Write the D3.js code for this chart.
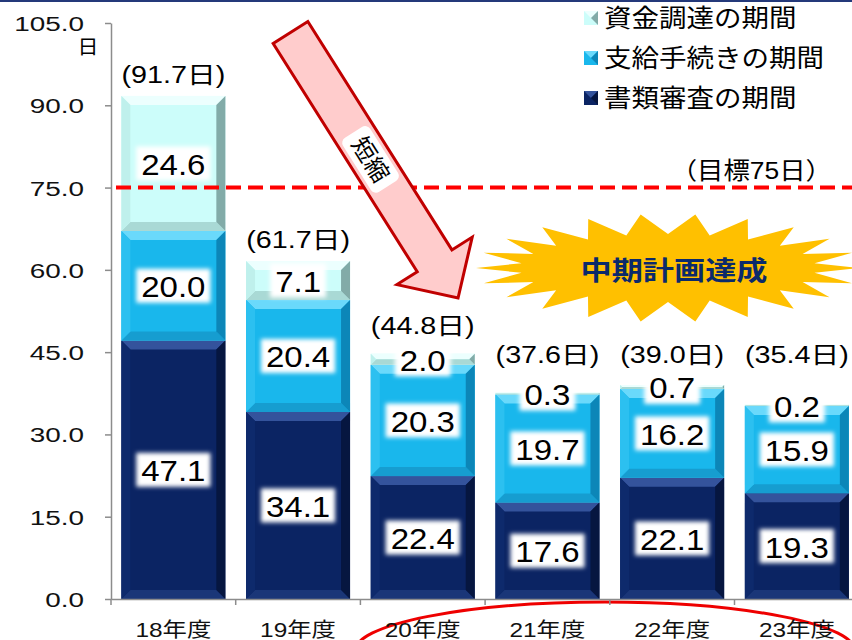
<!DOCTYPE html>
<html>
<head>
<meta charset="utf-8">
<script src="https://cdn.jsdelivr.net/npm/d3@7"></script>
<style>
  body { margin: 0; background: #fff; }
  svg { display: block; font-family: "Liberation Sans", "Noto Sans CJK JP", sans-serif; }
</style>
</head>
<body>
<script>
// data
const years = ["18年度", "19年度", "20年度", "21年度", "22年度", "23年度"];
const shinsa = [47.1, 34.1, 22.4, 17.6, 22.1, 19.3];   // 書類審査の期間
const shikyu = [20.0, 20.4, 20.3, 19.7, 16.2, 15.9];   // 支給手続きの期間
const shikin = [24.6, 7.1, 2.0, 0.3, 0.7, 0.2];        // 資金調達の期間
const totals = [91.7, 61.7, 44.8, 37.6, 39.0, 35.4];
const seriesKeys = ["shinsa", "shikyu", "shikin"];
const seriesNames = ["書類審査の期間", "支給手続きの期間", "資金調達の期間"];
const yTicks = [0, 15, 30, 45, 60, 75, 90, 105];
const target = 75;

const width = 852, height = 640;
const margin = { top: 23, left: 111, bottom: 41 };

// colours per series: face, top bevel, bottom bevel, left, right
const palette = {
    shinsa: { face: "#0b2463", top: "#34539c", bottom: "#1a3678", left: "#0e2a6c", right: "#061640" },
    shikyu: { face: "#19b7ec", top: "#6ad9fb", bottom: "#169dd0", left: "#2cc0f0", right: "#0c86b8" },
    shikin: { face: "#ccfdfa", top: "#ecfffe", bottom: "#a9d9d5", left: "#bff0ec", right: "#82aba8" }
};

const table = years.map((y, i) => ({ year: y, shinsa: shinsa[i], shikyu: shikyu[i], shikin: shikin[i], total: totals[i] }));
const stacked = d3.stack().keys(seriesKeys)(table);

const svg = d3.select("body").append("svg")
    .attr("width", width)
    .attr("height", height);

svg.append("rect").attr("width", width).attr("height", height).attr("fill", "#fff");

const defs = svg.append("defs");
defs.append("filter").attr("id", "soft")
    .attr("x", "-30%").attr("y", "-30%").attr("width", "160%").attr("height", "160%")
    .append("feGaussianBlur").attr("stdDeviation", 2.2);

// top border line
svg.append("rect").attr("x", 0).attr("y", 0).attr("width", width).attr("height", 2).attr("fill", "#24397a");

const x = d3.scaleBand()
    .domain(years)
    .range([margin.left, margin.left + 6 * 124.7])
    .paddingInner(0.166)
    .paddingOuter(0.083);

const y = d3.scaleLinear()
    .domain([0, 105])
    .range([height - margin.bottom, margin.top]);

// helper: text stretched horizontally like the original
function stretchedText(g, tx, ty, str, size, sx, anchor) {
    return g.append("text")
        .attr("transform", `translate(${tx},${ty}) scale(${sx},1)`)
        .attr("text-anchor", anchor || "middle")
        .attr("dy", "0.35em")
        .attr("font-size", size)
        .attr("fill", "#000")
        .text(str);
}

// red ellipse behind the axis labels of 20-23
svg.append("ellipse")
    .attr("cx", 605).attr("cy", 651)
    .attr("rx", 250).attr("ry", 49)
    .attr("fill", "none")
    .attr("stroke", "#ee0000")
    .attr("stroke-width", 3);

// bars with a bevel look
const barLayer = svg.append("g");
stacked.forEach(layer => {
    const c = palette[layer.key];
    layer.forEach((d, i) => {
        const x0 = x(years[i]);
        const w = x.bandwidth();
        const y0 = y(d[1]);
        const h = y(d[0]) - y(d[1]);
        const b = Math.min(9, h / 2, w / 2);
        const g = barLayer.append("g");
        g.append("rect").attr("x", x0).attr("y", y0).attr("width", w).attr("height", h).attr("fill", c.face);
        const poly = pts => pts.map(p => p.join(",")).join(" ");
        g.append("polygon").attr("fill", c.top)
            .attr("points", poly([[x0, y0], [x0 + w, y0], [x0 + w - b, y0 + b], [x0 + b, y0 + b]]));
        g.append("polygon").attr("fill", c.bottom)
            .attr("points", poly([[x0, y0 + h], [x0 + w, y0 + h], [x0 + w - b, y0 + h - b], [x0 + b, y0 + h - b]]));
        g.append("polygon").attr("fill", c.left)
            .attr("points", poly([[x0, y0], [x0 + b, y0 + b], [x0 + b, y0 + h - b], [x0, y0 + h]]));
        g.append("polygon").attr("fill", c.right)
            .attr("points", poly([[x0 + w, y0], [x0 + w - b, y0 + b], [x0 + w - b, y0 + h - b], [x0 + w, y0 + h]]));
    });
});

// axes
const yAxis = svg.append("g")
    .attr("transform", `translate(${margin.left},0)`)
    .call(d3.axisLeft(y).tickValues(yTicks).tickFormat(d3.format(".1f")).tickSize(6).tickSizeOuter(0));
yAxis.select(".domain").attr("stroke", "#8c8c8c").attr("stroke-width", 1.5);
yAxis.selectAll(".tick line").attr("stroke", "#8c8c8c").attr("stroke-width", 1.5);
yAxis.selectAll(".tick text")
    .attr("font-family", "Liberation Sans, sans-serif")
    .attr("font-size", 21)
    .attr("fill", "#111")
    .attr("x", -27 / 1.33)
    .attr("dy", "0.36em")
    .attr("transform", "scale(1.33,1)");

stretchedText(svg, 88, 47, "日", 19, 1.1);

const xAxis = svg.append("g")
    .attr("transform", `translate(0,${y(0)})`)
    .call(d3.axisBottom(x).tickSize(0).tickSizeOuter(0));
xAxis.select(".domain").attr("stroke", "#8c8c8c").attr("stroke-width", 1.5);
xAxis.selectAll(".tick text")
    .attr("font-family", "Liberation Sans, Noto Sans CJK JP, sans-serif")
    .attr("font-size", 20)
    .attr("fill", "#111")
    .attr("y", 31)
    .attr("dy", "0.35em")
    .attr("transform", "scale(1.22,1)");
// category boundary ticks
const step = x.step();
xAxis.selectAll(".bound")
    .data(d3.range(years.length + 1))
    .enter().append("line")
    .attr("x1", i => x.range()[0] + i * step)
    .attr("x2", i => x.range()[0] + i * step)
    .attr("y1", 0).attr("y2", 6)
    .attr("stroke", "#8c8c8c").attr("stroke-width", 1.5);

// target line
svg.append("line")
    .attr("x1", margin.left + 5).attr("x2", width)
    .attr("y1", y(target)).attr("y2", y(target))
    .attr("stroke", "#ff0000")
    .attr("stroke-width", 4)
    .attr("stroke-dasharray", "15,7");
svg.append("text")
    .attr("transform", `translate(832,${y(target) - 17}) scale(1.1,1)`)
    .attr("text-anchor", "end")
    .attr("dy", "0.35em")
    .attr("font-size", 24)
    .attr("fill", "#000")
    .text("（目標75日）");

// segment value labels
const labelLayer = svg.append("g");
stacked.forEach(layer => {
    layer.forEach((d, i) => {
        const cx = x(years[i]) + x.bandwidth() / 2;
        const cy = y((d[0] + d[1]) / 2);
        const g = labelLayer.append("g");
        const box = g.append("rect");
        const t = stretchedText(g, cx, cy + 1, d3.format(".1f")(d[1] - d[0]), 30, 1.1);
        const tw = t.node().getComputedTextLength() * 1.1;
        box.attr("x", cx - tw / 2 - 5).attr("y", cy - 17)
            .attr("width", tw + 10).attr("height", 34)
            .attr("fill", "#fff")
            .attr("filter", "url(#soft)");
    });
});

// totals above bars; the short bars share one row above their value labels
const totalRowY = y(40) - 25;
svg.append("g").selectAll("text")
    .data(table)
    .enter().append("text")
    .attr("transform", d => {
        const small = d.shikin < 5;
        const ty = small ? Math.min(y(d.total) - 27, totalRowY) : y(d.total) - 21;
        return `translate(${x(d.year) + x.bandwidth() / 2},${ty}) scale(1.25,1)`;
    })
    .attr("text-anchor", "middle")
    .attr("dy", "0.35em")
    .attr("font-size", 23)
    .attr("fill", "#000")
    .text(d => `(${d3.format(".1f")(d.total)}日)`);

// legend (top item is the top series)
const legend = svg.append("g");
const legendOrder = [2, 1, 0];
legendOrder.forEach((k, row) => {
    const c = palette[seriesKeys[k]];
    const ly = 18 + row * 40;
    const g = legend.append("g");
    g.append("rect").attr("x", 584).attr("y", ly - 7).attr("width", 14).attr("height", 14).attr("fill", c.face);
    g.append("polygon").attr("points", `584,${ly - 7} 598,${ly - 7} 591,${ly}`).attr("fill", c.top);
    g.append("polygon").attr("points", `598,${ly - 7} 598,${ly + 7} 591,${ly}`).attr("fill", c.right);
    stretchedText(g, 604, ly, seriesNames[k], 25, 1.1, "start");
});

// shortening arrow
const arrowLen = 314, shaftHalf = 20.5, headHalf = 44.5, headLen = 44;
const arrow = svg.append("g")
    .attr("transform", "translate(290.5,32.5) rotate(57.75)");
arrow.append("polygon")
    .attr("points", [
        [0, -shaftHalf], [arrowLen - headLen, -shaftHalf], [arrowLen - headLen, -headHalf],
        [arrowLen, 0], [arrowLen - headLen, headHalf], [arrowLen - headLen, shaftHalf], [0, shaftHalf]
    ].map(p => p.join(",")).join(" "))
    .attr("fill", "#ffcccc")
    .attr("stroke", "#c00000")
    .attr("stroke-width", 3)
    .attr("stroke-linejoin", "miter");
arrow.append("rect")
    .attr("x", 118).attr("y", -16).attr("width", 64).attr("height", 32)
    .attr("rx", 6)
    .attr("fill", "#fff");
arrow.append("text")
    .attr("x", 150).attr("y", 0)
    .attr("dy", "0.36em")
    .attr("text-anchor", "middle")
    .attr("font-size", 24)
    .attr("fill", "#000")
    .text("短縮");

// starburst
const burst = { cx: 668, cy: 268, rxOut: 192, ryOut: 54, rxIn: 148, ryIn: 34, n: 22 };
const burstPts = d3.range(burst.n * 2).map(i => {
    const a = i * Math.PI / burst.n;
    const out = i % 2 === 0;
    const rx = out ? burst.rxOut : burst.rxIn;
    const ry = out ? burst.ryOut : burst.ryIn;
    return [burst.cx + rx * Math.cos(a), burst.cy + ry * Math.sin(a)];
});
svg.append("polygon")
    .attr("points", burstPts.map(p => p.join(",")).join(" "))
    .attr("fill", "#ffc000");
svg.append("text")
    .attr("transform", `translate(674,${burst.cy + 3}) scale(1.2,1)`)
    .attr("text-anchor", "middle")
    .attr("dy", "0.36em")
    .attr("font-size", 26)
    .attr("font-weight", "bold")
    .attr("fill", "#0b2a6b")
    .text("中期計画達成");
</script>
</body>
</html>
